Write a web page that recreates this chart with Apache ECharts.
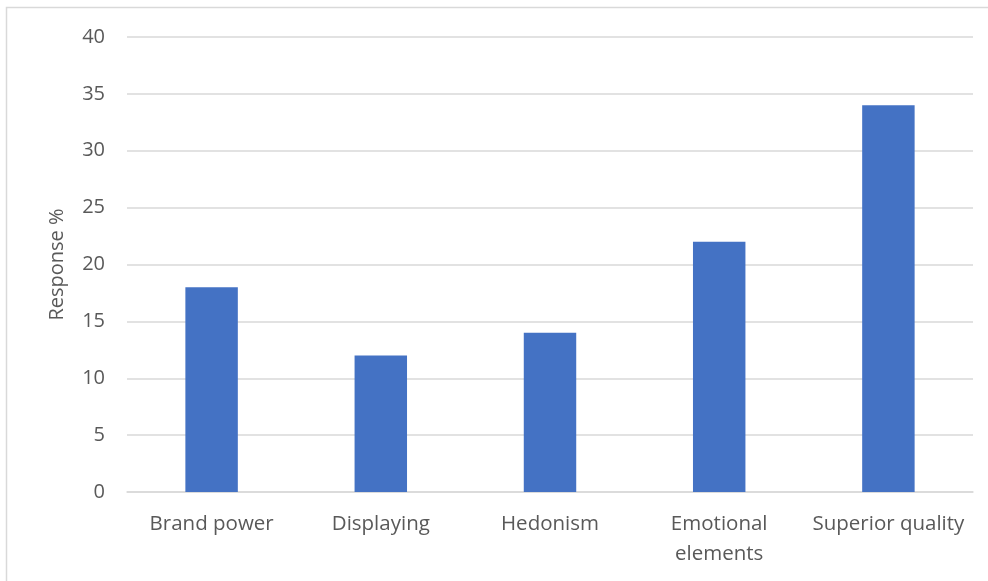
<!DOCTYPE html>
<html>
<head>
<meta charset="utf-8">
<script src="https://cdn.jsdelivr.net/npm/echarts@6/dist/echarts.min.js"></script>
<style>
  html, body { margin: 0; padding: 0; background: #fff; }
  #chart { width: 988px; height: 581px; }
</style>
</head>
<body>
<div id="chart"></div>
<script>
// Share of responses per purchase motive
const categories = ['Brand power', 'Displaying', 'Hedonism', 'Emotional\nelements', 'Superior quality'];
const responses = [18, 12, 14, 22, 34];
const yTicks = { min: 0, max: 40, step: 5 };

const FONT = "'Open Sans', 'Liberation Sans', sans-serif";
const chart = echarts.init(document.getElementById('chart'), null, { renderer: 'canvas' });

chart.setOption({
  backgroundColor: '#ffffff',
  animation: false,
  graphic: [{
    type: 'rect',
    shape: { x: 6.5, y: 7.5, width: 1200, height: 800 },
    style: { fill: 'none', stroke: '#d9d9d9', lineWidth: 1.5 },
    silent: true
  }],
  grid: { left: 127, right: 15, top: 37, bottom: 89, containLabel: false },
  xAxis: {
    type: 'category',
    data: categories,
    axisLine: { show: true, lineStyle: { color: '#d9d9d9', width: 1.5 } },
    axisTick: { show: false },
    axisLabel: {
      color: '#595959', fontFamily: FONT, fontSize: 20.5,
      margin: 17, lineHeight: 30, interval: 0
    }
  },
  yAxis: {
    type: 'value',
    min: yTicks.min, max: yTicks.max, interval: yTicks.step,
    name: 'Response %',
    nameLocation: 'middle',
    nameGap: 60,
    nameRotate: 90,
    nameTextStyle: { color: '#595959', fontFamily: FONT, fontSize: 20 },
    axisLine: { show: false },
    axisTick: { show: false },
    splitLine: { lineStyle: { color: '#d9d9d9', width: 1.5 } },
    axisLabel: { color: '#595959', fontFamily: FONT, fontSize: 20, margin: 22 }
  },
  series: [{
    type: 'bar',
    data: responses,
    barWidth: '31%',
    itemStyle: { color: '#4472c4' }
  }]
});
</script>
</body>
</html>
